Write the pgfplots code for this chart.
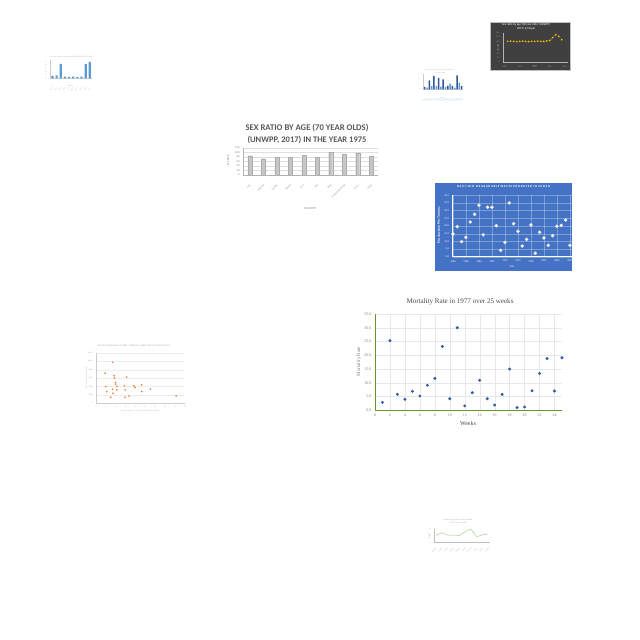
\documentclass[border=0pt]{standalone}
\usepackage{pgfplots}
\pgfplotsset{compat=1.18}
\usepackage{fontspec}
\setmainfont{Carlito}
\newfontfamily\serifx{Liberation Serif}
\newcommand{\fz}[1]{\fontsize{#1}{#1}\selectfont}
\definecolor{xlgray}{RGB}{89,89,89}
\definecolor{sudanbg}{RGB}{68,114,196}
\definecolor{mortblue}{RGB}{52,90,160}
\definecolor{mortgreen}{RGB}{100,150,40}
\definecolor{nepalbg}{RGB}{64,64,64}
\definecolor{nepalyel}{RGB}{255,192,0}
\definecolor{xlblue}{RGB}{91,155,213}
\definecolor{xldblue}{RGB}{47,85,151}
\definecolor{xlorange}{RGB}{237,125,49}
\definecolor{xlgreen}{RGB}{169,209,142}

\pgfplotsset{
  every axis/.append style={scale only axis, anchor=south west, enlargelimits=false,
    /pgf/number format/assume math mode=true, tick style={draw=none}},
}

\begin{document}
\begin{tikzpicture}[x=1pt,y=1pt]
\path[fill=white, use as bounding box] (0,0) rectangle (640,640);

% ---- top-left bar chart
\node[text=gray!60] at (71,582.7) {\resizebox{42pt}{!}{Sex ratio by age (100+ year olds) (UNWPP, 2017) in 1990}};
\begin{axis}[at={(50pt,561.7pt)}, width=42.3pt, height=18.3pt,
  xmin=-0.6, xmax=9.6, ymin=0, ymax=55, ybar, bar width=2.2pt,
  xtick={0,...,9}, xticklabels={Chad,Chile,China,Cuba,Fiji,Gabon,Ghana,Haiti,India,Iran},
  ytick={0,10,...,50}, axis x line*=bottom, axis y line*=left, axis line style={gray!40,-},
  tick label style={font=\fz{1.6}, text=gray!60},
  xticklabel style={rotate=45, anchor=north east}]
\addplot[fill=xlblue, draw=none] coordinates {(0,7) (1,9) (2,43) (3,5) (4,4) (5,5) (6,4) (7,5) (8,43) (9,49)};
\end{axis}
\node[text=gray!60, font=\fz{1.8}] at (70,554) {Country};

% ---- top-right dark chart (Nepal)
\path[fill=nepalbg, draw=gray!50, line width=0.3pt] (490,570) rectangle (570,618);
\node[text=white, font=\fz{3}] at (526,615.3) {Sex ratio by age (90 year olds) (UNWPP,};
\node[text=white, font=\fz{3}] at (526,611.3) {2017) in Nepal};
\begin{axis}[at={(503pt,577.7pt)}, width=65pt, height=29.3pt,
  xmin=1947.2, xmax=2055.5, ymin=0, ymax=140,
  xtick={1950,1975,...,2050}, ytick={0,20,...,140},
  axis x line*=bottom, axis y line*=left, axis line style={gray!60,-},
  tick label style={font=\fz{2}, text=gray!70},
  xticklabel style={/pgf/number format/set thousands separator={}}]
\addplot[nepalyel, densely dotted, line width=0.4pt, mark=*, mark size=0.6pt, mark options={solid}] coordinates {
 (1955,100) (1960,101) (1965,100) (1970,99) (1975,100) (1980,101) (1985,100) (1990,99)
 (1995,100) (2000,100) (2005,101) (2010,100) (2015,100) (2020,102) (2025,104)
 (2030,118) (2035,132) (2040,124) (2045,108)};
\end{axis}
\node[text=gray!70, font=\fz{2}, rotate=90] at (498,592) {Sex ratio};
\node[text=gray!70, font=\fz{2}] at (534.7,573.7) {Years};

% ---- small blue bar chart
\node[text=gray!60, font=\fz{1.6}] at (440,570) {Sex ratio by age (80 year olds) (UNWPP, 2017)};
\node[text=gray!60, font=\fz{1.6}] at (440,567.3) {in the year 1985};
\begin{axis}[at={(423.3pt,550.7pt)}, width=39.8pt, height=15pt,
  xmin=-0.6, xmax=16.6, ymin=0, ymax=45, ybar, bar width=1.5pt,
  xtick={0,...,16}, xticklabels={Oman,Peru,Chad,Cuba,Fiji,Iran,Iraq,Laos,Mali,Niue,Togo,Mali,Peru,Chad,Cuba,Iran,Iraq},
  ytick={0,15,30,45}, axis x line*=bottom, axis y line*=left, axis line style={gray!40,-},
  tick label style={font=\fz{1.4}, text=gray!60},
  xticklabel style={rotate=45, anchor=north east, text=xlblue}]
\addplot[fill=xldblue, draw=none, bar shift=0pt] coordinates {(0,7) (2,27) (4,40) (6,34) (8,30) (10,10) (12,10) (14,42) (16,10)};
\addplot[fill=xlblue, draw=none, bar shift=0pt] coordinates {(1,5) (3,10) (5,10) (7,8) (9,7) (11,17) (13,5) (15,20)};
\end{axis}
\node[text=gray!60, font=\fz{1.6}] at (443,542.3) {Country};

% ---- central bar chart
\node[text=xlgray] at (307,512) {\resizebox{123pt}{!}{\bfseries SEX RATIO BY AGE (70 YEAR OLDS)}};
\node[text=xlgray] at (307,500) {\resizebox{119pt}{!}{\bfseries (UNWPP, 2017) IN THE YEAR 1975}};
\begin{axis}[at={(243pt,465pt)}, width=135pt, height=27.3pt,
  xmin=-0.5, xmax=9.5, ymin=0, ymax=120, ybar, bar width=4pt,
  xtick={0,...,9}, xticklabels={Syria,Tajikistan,Tanzania,Thailand,Timor,Togo,Tonga,Trinidad and Tobago,Tunisia,Turkey},
  ytick={0,20,...,120}, ymajorgrids, grid style={gray!25, line width=0.3pt},
  axis x line*=bottom, axis y line*=left, axis line style={gray!60,-},
  tick label style={font=\fz{2.8}, text=gray},
  xticklabel style={rotate=45, anchor=north east, font=\fz{2.2}}]
\addplot[fill=gray!45, draw=gray!65, line width=0.3pt] coordinates {
 (0,84.8) (1,71.6) (2,77.8) (3,77.8) (4,86.6) (5,79) (6,99.8) (7,91) (8,98) (9,83.5)};
\end{axis}
\node[text=gray, font=\fz{2.6}, rotate=90] at (228.3,480) {SEX RATIO};
\node[text=gray, font=\fz{3}] at (310,431) {COUNTRY};

% ---- Sudan scatter
\path[fill=sudanbg] (435,369) rectangle (572,457);
\node[text=white] at (503.5,453.3) {\resizebox{93pt}{!}{\bfseries D A I L Y\ \ B I O - D E G R A D A B L E\ \ W A S T E\ \ P R O D U C E D\ \ I N\ \ S U D A N}};
\begin{axis}[at={(452.5pt,383.3pt)}, width=119.6pt, height=61.4pt,
  xmin=1979.9, xmax=2007.5, ymin=0, ymax=40,
  xtick={1980,1983,...,2007}, ytick={0,5,...,40},
  grid=major, grid style={white, opacity=0.3, line width=0.3pt},
  axis x line*=bottom, axis y line*=left, axis line style={white,-, line width=0.5pt},
  tick label style={font=\fz{2.6}, text=white},
  xticklabel style={/pgf/number format/set thousands separator={}},
  yticklabel style={/pgf/number format/fixed, /pgf/number format/fixed zerofill, /pgf/number format/precision=1}]
\addplot[only marks, mark=*, mark size=1.7pt, mark options={fill=white!92!yellow, draw=gray!30, line width=0.2pt}] coordinates {
 (1980,14.8) (1981,19.6) (1982,9.8) (1983,12.6) (1984,22.6) (1985,27.6) (1986,33.5)
 (1987,14.3) (1988,32.2) (1989,32.2) (1990,20.2) (1991,4.1) (1992,9.3) (1993,35.0)
 (1994,21.5) (1995,16.5) (1996,7.0) (1997,11.3) (1998,20.7) (1999,2.2) (2000,15.9)
 (2001,12.2) (2002,7.4) (2003,13.7) (2004,19.8) (2005,20.4) (2006,23.9) (2007,7.4)};
\end{axis}
\node[text=white, rotate=90] at (438.7,415) {\resizebox{37pt}{!}{Production Per Tonnes}};
\node[text=white, font=\fz{2.8}] at (512,373.3) {Year};

% ---- Mortality scatter
\node[text=black!70] at (460,338) {\resizebox{107pt}{!}{\serifx Mortality Rate in 1977 over 25 weeks}};
\begin{axis}[at={(375pt,229.7pt)}, width=187pt, height=96.3pt, axis on top,
  xmin=0, xmax=25, ymin=0, ymax=35, xtick={0,2,...,24}, ytick={0,5,...,35},
  grid=major, grid style={gray!18, line width=0.3pt},
  axis x line*=bottom, axis y line*=left,
  x axis line style={mortgreen,-, line width=0.9pt},
  y axis line style={mortgreen,-, line width=0.9pt},
  tick label style={font=\serifx\fz{4}, text=gray},
  yticklabel style={/pgf/number format/fixed, /pgf/number format/fixed zerofill, /pgf/number format/precision=1}]
\addplot[only marks, mark=*, mark size=1.3pt, color=mortblue] coordinates {
 (1,2.9) (2,25.3) (3,5.8) (4,4.0) (5,6.9) (6,5.2) (7,9.1) (8,11.6) (9,23.2) (10,4.2)
 (11,30.0) (12,1.6) (13,6.4) (14,10.9) (15,4.2) (16,1.9) (17,5.8) (18,15.0) (19,1.0)
 (20,1.2) (21,7.1) (22,13.4) (23,18.8) (24,7.0) (25,19.1)};
\end{axis}
\node[text=gray, rotate=90] at (359,278.3) {\serifx\fz{5}Mortality Rate};
\node[text=black!70] at (468,216.7) {\serifx\fz{6}Weeks};

% ---- orange scatter
\node[text=gray!60] at (134,294) {\resizebox{72pt}{!}{Share of agriculture in GDP vs GDP per capita (current US\$) in 2017}};
\begin{axis}[at={(96pt,236.7pt)}, width=89pt, height=50.3pt,
  xmin=0, xmax=45, ymin=0, ymax=12000, xtick={0,5,...,45}, ytick={0,2000,...,12000},
  ymajorgrids, grid style={gray!15, line width=0.2pt},
  axis x line*=bottom, axis y line*=left, axis line style={gray!40,-},
  tick label style={font=\fz{1.8}, text=gray!70}, scaled y ticks=false,
  yticklabel style={/pgf/number format/set thousands separator={}}]
\addplot[only marks, mark=*, mark size=0.6pt, color=xlorange] coordinates {
 (8.4,9760) (4.6,7200) (4.9,4000) (5.4,2800) (7.4,1440) (8.6,2400) (9.1,6560) (9.4,6000)
 (9.8,4960) (9.9,4560) (10.5,4000) (10.6,3200) (8.3,3360) (14.3,4160) (14.7,3200)
 (14.7,1440) (15.5,6240) (16.7,1760) (19.2,4160) (19.7,3760) (23.1,4400) (23.1,2800)
 (27.5,3360) (40.5,1760)};
\end{axis}
\node[text=gray!60, font=\fz{1.8}, rotate=90] at (86.7,262) {GDP per capita (current US\$)};
\node[text=gray!60, font=\fz{1.8}] at (140,229) {Share of agriculture, forestry, and fishing (\% of GDP)};

% ---- green line chart
\node[text=gray!70, font=\fz{1.8}] at (458,120) {Sex ratio by age (50 year olds) (UNWPP,};
\node[text=gray!70, font=\fz{1.8}] at (458,117.3) {2017) in the year 2000};
\begin{axis}[at={(434.3pt,97.3pt)}, width=55.6pt, height=13.3pt,
  xmin=-0.25, xmax=9.25, ymin=0, ymax=40,
  xtick={0,...,9}, xticklabels={Armenia,Austria,Belarus,Belgium,Bulgaria,Croatia,Denmark,Estonia,Finland,Georgia},
  ytick={0,20,40}, axis x line*=bottom, axis y line*=left, axis line style={gray!50,-},
  tick label style={font=\fz{1.6}, text=gray!70},
  xticklabel style={rotate=45, anchor=north east}]
\addplot[xlgreen, line width=0.5pt] coordinates {
 (0,22) (1,30) (2,23) (3,23) (4,21) (5,33) (6,41) (7,18) (8,24) (9,26)};
\end{axis}
\node[text=gray!70, font=\fz{1.6}, rotate=90] at (429,104) {Sex ratio};
\end{tikzpicture}
\end{document}
